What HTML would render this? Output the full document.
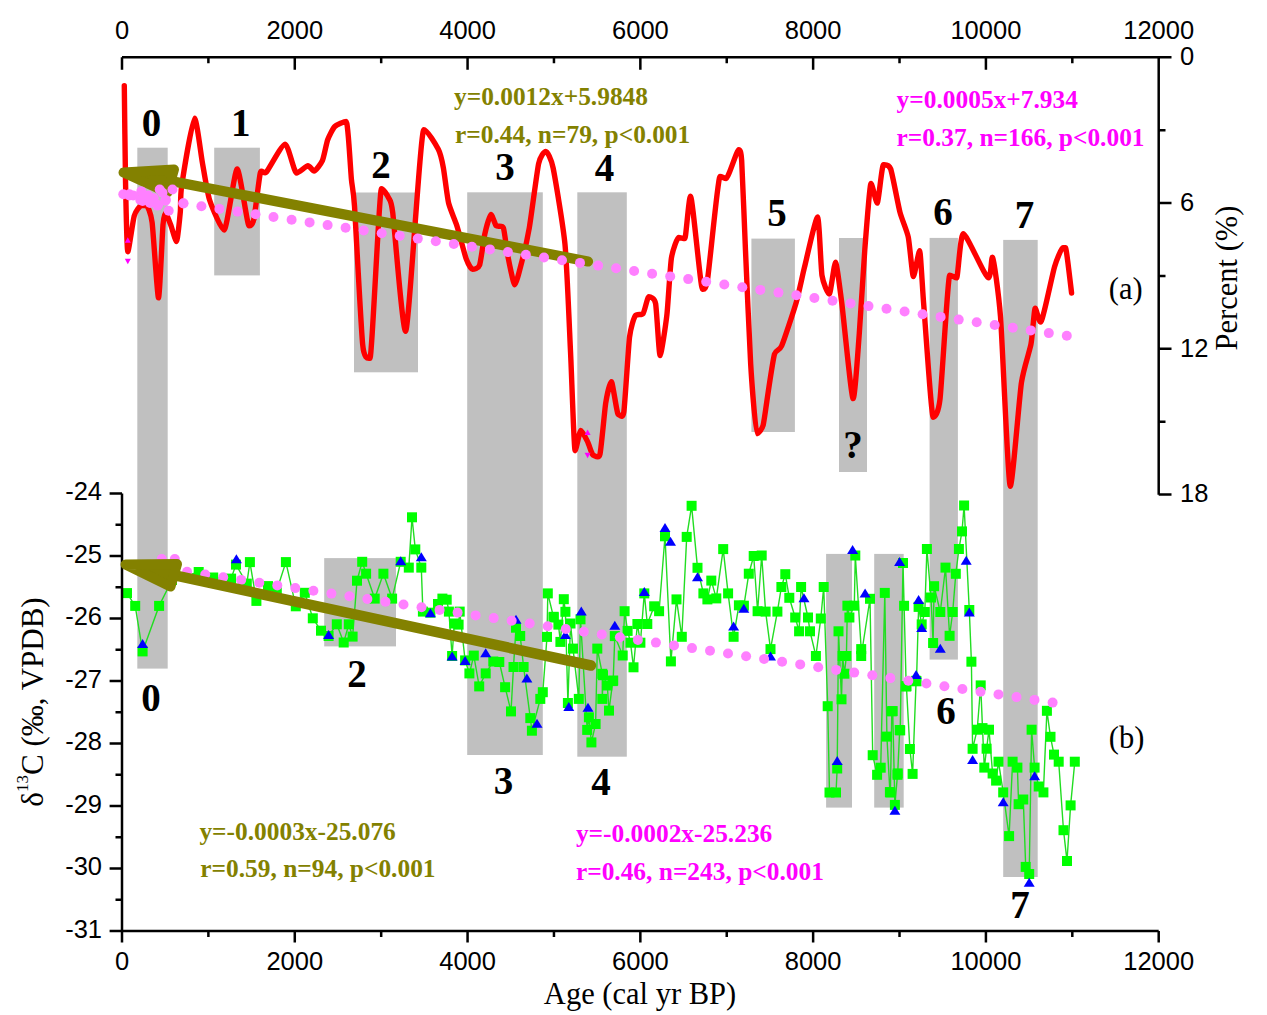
<!DOCTYPE html>
<html><head><meta charset="utf-8"><style>html,body{margin:0;padding:0;background:#fff;overflow:hidden}svg{display:block}</style></head>
<body><svg width="1267" height="1015" viewBox="0 0 1267 1015">
<rect width="1267" height="1015" fill="#fff"/>
<rect x="137.3" y="147.7" width="30.4" height="520.9" fill="#c0c0c0"/>
<rect x="214.2" y="147.7" width="45.7" height="127.7" fill="#c0c0c0"/>
<rect x="354" y="192.5" width="64.0" height="179.8" fill="#c0c0c0"/>
<rect x="467.2" y="192.3" width="75.6" height="562.7" fill="#c0c0c0"/>
<rect x="577.3" y="192.3" width="49.5" height="564.4" fill="#c0c0c0"/>
<rect x="751.4" y="238.6" width="43.5" height="193.4" fill="#c0c0c0"/>
<rect x="839" y="238" width="28.0" height="234.0" fill="#c0c0c0"/>
<rect x="929.6" y="237.9" width="28.3" height="421.7" fill="#c0c0c0"/>
<rect x="1003.2" y="239.9" width="34.5" height="637.1" fill="#c0c0c0"/>
<rect x="324.2" y="558.1" width="71.8" height="88.3" fill="#c0c0c0"/>
<rect x="826.1" y="553.9" width="25.9" height="253.7" fill="#c0c0c0"/>
<rect x="874.2" y="553.9" width="29.5" height="253.7" fill="#c0c0c0"/>
<path d="M124.3,85.7 C124.4,95.1 125.2,163.4 125.5,180 C125.8,196.6 126.9,251.7 127.8,251.7 C128.7,251.7 132.9,220.5 134.2,215.9 C135.5,211.3 140.0,205.6 141.2,205.6 C142.4,205.6 145.3,205.6 146.4,205.6 C147.5,205.6 150.9,213.1 152.1,222.3 C153.3,231.5 157.4,297.8 158.5,297.8 C159.6,297.8 162.3,233.2 163,224.8 C163.7,216.4 164.8,213.3 165.6,213.3 C166.4,213.3 169.6,222.0 170.7,224.8 C171.8,227.6 175.5,241.5 176.5,241.5 C177.5,241.5 179.8,217.5 180.3,212 C180.8,206.5 180.2,195.8 181.6,186.4 C183.0,177.0 192.4,118.3 194.5,118.3 C196.6,118.3 200.9,154.5 202.4,162.7 C203.9,170.9 207.4,193.3 209.6,200 C211.8,206.7 221.3,230.0 224.1,230 C226.9,230.0 234.7,169.0 237.2,169 C239.7,169.0 247.3,225.8 249,225.8 C250.7,225.8 252.9,223.9 254,218.6 C255.1,213.3 259.1,177.7 260.3,173 C261.6,168.3 264.0,174.9 266.5,172 C269.0,169.1 282.1,144.1 285.1,144.1 C288.1,144.1 294.2,173.0 296.5,173 C298.8,173.0 306.1,165.8 307.9,165.8 C309.7,165.8 312.7,171.0 314.1,171 C315.6,171.0 321.0,163.8 322.4,160.7 C323.8,157.6 326.4,143.4 327.6,140 C328.8,136.6 332.9,128.4 334.8,126.5 C336.7,124.6 344.5,121.4 346.2,121.4 C347.9,121.4 350.6,170.8 351.4,179.3 C352.2,187.8 353.4,189.4 354.5,206 C355.6,222.6 361.1,329.6 362.7,344.8 C364.2,360.0 368.1,358.2 370,358.2 C371.9,358.2 379.5,188.6 381.4,188.6 C383.3,188.6 387.5,195.5 388.6,197.9 C389.7,200.3 391.0,199.1 392.7,212.4 C394.4,225.7 402.5,331.3 405.6,331.3 C408.7,331.3 420.5,129.6 423.8,129.6 C427.1,129.6 436.3,145.5 438.3,149.3 C440.3,153.1 442.4,162.5 443.4,167.9 C444.4,173.3 447.2,197.2 448.6,203 C450.0,208.8 455.1,220.2 456.9,225.8 C458.7,231.4 464.6,254.5 466.2,258.9 C467.8,263.2 471.1,269.3 472.4,269.3 C473.7,269.3 478.4,268.6 479.6,265.1 C480.8,261.6 483.7,239.2 484.8,234.1 C485.9,229.0 489.9,214.4 491,214.4 C492.1,214.4 495.0,224.5 496.2,225.8 C497.4,227.2 502.3,225.0 503.4,227.9 C504.5,230.8 506.5,249.1 507.6,254.8 C508.7,260.5 513.4,284.8 514.8,284.8 C516.2,284.8 520.5,266.7 522,261 C523.5,255.3 527.6,237.6 529.3,227.9 C531.0,218.2 537.0,171.5 538.6,163.8 C540.2,156.2 544.3,151.4 545.8,151.4 C547.2,151.4 551.2,158.6 553.1,167.9 C555.0,177.2 563.2,225.9 565,244.4 C566.8,262.9 569.6,332.7 570.6,353.3 C571.6,373.9 574.1,450.7 575.1,450.7 C576.1,450.7 579.5,430.4 580.8,430.4 C582.0,430.4 586.4,439.2 587.6,441.7 C588.9,444.2 592.1,455.3 593.3,455.3 C594.5,455.3 598.8,459.3 600,454.1 C601.2,448.9 604.6,410.4 605.7,403.2 C606.8,395.9 610.1,381.6 611.4,381.6 C612.6,381.6 617.0,414.5 618.2,414.5 C619.4,414.5 622.7,419.9 623.8,412.2 C624.9,404.5 628.4,347.0 629.5,337.4 C630.6,327.8 633.8,318.3 635.2,315.9 C636.6,313.5 641.7,315.5 643.1,313.6 C644.5,311.7 647.5,296.7 648.8,296.7 C650.0,296.7 654.5,297.6 655.6,303.5 C656.7,309.4 659.0,355.6 660.1,355.6 C661.2,355.6 665.8,324.6 666.9,314.8 C668.0,305.1 670.2,265.8 671.4,258.1 C672.6,250.4 677.3,237.5 678.6,237.5 C679.9,237.5 683.6,238.6 684.8,238.6 C686.0,238.6 688.8,196.2 690.6,196.2 C692.4,196.2 700.7,289.3 702.4,289.3 C704.1,289.3 705.8,290.2 707.6,278.9 C709.4,267.6 718.1,176.5 720,176.5 C721.9,176.5 724.3,178.6 726.2,178.6 C728.1,178.6 737.1,149.6 738.6,149.6 C740.1,149.6 741.0,150.9 741.7,161 C742.4,171.1 744.6,230.4 745.5,250.7 C746.4,271.0 749.6,346.1 750.7,364.4 C751.8,382.7 755.7,433.7 756.9,433.7 C758.1,433.7 762.0,429.6 763.1,425.4 C764.2,421.2 767.2,398.4 768.3,391.3 C769.4,384.2 773.2,358.7 774.5,354.1 C775.8,349.6 779.5,351.0 781.7,345.8 C783.9,340.6 793.9,310.3 796.2,302.4 C798.5,294.5 802.4,275.7 804.5,267.2 C806.6,258.7 815.8,217.0 817.5,217 C819.2,217.0 820.8,267.8 822,275.5 C823.2,283.2 827.9,294.1 829.3,294.1 C830.6,294.1 834.3,262.1 835.5,262.1 C836.7,262.1 839.9,288.8 841.7,302.4 C843.5,316.0 851.3,398.6 853.1,398.6 C854.9,398.6 858.1,348.3 859.3,333.4 C860.5,318.5 863.6,264.6 864.8,249.6 C866.0,234.6 869.8,183.4 871,183.4 C872.2,183.4 876.0,203.1 877.2,203.1 C878.4,203.1 882.0,164.8 883.4,164.8 C884.8,164.8 889.0,164.2 890.7,169 C892.4,173.8 898.2,205.6 900,212.4 C901.8,219.2 907.0,230.8 908.3,237.2 C909.6,243.6 912.3,276.5 913.4,276.5 C914.5,276.5 918.6,250.7 919.6,250.7 C920.6,250.7 922.4,288.9 923.8,305.5 C925.1,322.1 931.5,417.2 933.1,417.2 C934.7,417.2 938.3,413.5 940,399.3 C941.7,385.1 948.0,275.2 949.7,275.2 C951.4,275.2 955.2,277.9 956.6,277.9 C958.0,277.9 960.2,233.8 963.4,233.8 C966.6,233.8 985.4,277.9 988.3,277.9 C991.2,277.9 991.2,257.2 992.4,257.2 C993.6,257.2 998.7,293.7 1000.5,316.6 C1002.3,339.5 1008.2,486.2 1010.3,486.2 C1012.4,486.2 1019.3,397.0 1021.4,382.8 C1023.5,368.6 1029.6,351.6 1031,344.1 C1032.4,336.7 1034.2,308.3 1035.2,308.3 C1036.2,308.3 1038.8,322.1 1040.7,322.1 C1042.6,322.1 1052.3,274.3 1054.5,266.9 C1056.7,259.4 1061.7,247.6 1062.8,247.6 C1063.9,247.6 1064.6,247.6 1065.5,247.6 C1066.4,247.6 1071.0,288.6 1071.6,293.1" fill="none" stroke="#ff0000" stroke-width="5.4" stroke-linejoin="round" stroke-linecap="round"/>
<line x1="170.8" y1="181.0" x2="588" y2="261.5" stroke="#838100" stroke-width="10.2" stroke-linecap="round"/><polygon points="123.5,172.5 174,169.5 167.5,192.5" fill="#838100" stroke="#838100" stroke-width="10" stroke-linejoin="round"/>
<circle cx="129.3" cy="195.4" r="5" fill="#ff80ff"/><circle cx="147.3" cy="198.1" r="5" fill="#ff80ff"/><circle cx="165.3" cy="200.8" r="5" fill="#ff80ff"/><circle cx="183.4" cy="203.5" r="5" fill="#ff80ff"/><circle cx="201.4" cy="206.2" r="5" fill="#ff80ff"/><circle cx="219.4" cy="208.9" r="5" fill="#ff80ff"/><circle cx="237.5" cy="211.6" r="5" fill="#ff80ff"/><circle cx="255.5" cy="214.3" r="5" fill="#ff80ff"/><circle cx="273.5" cy="217.0" r="5" fill="#ff80ff"/><circle cx="291.6" cy="219.7" r="5" fill="#ff80ff"/><circle cx="309.6" cy="222.4" r="5" fill="#ff80ff"/><circle cx="327.6" cy="225.1" r="5" fill="#ff80ff"/><circle cx="345.6" cy="227.8" r="5" fill="#ff80ff"/><circle cx="363.7" cy="230.5" r="5" fill="#ff80ff"/><circle cx="381.7" cy="233.2" r="5" fill="#ff80ff"/><circle cx="399.7" cy="235.9" r="5" fill="#ff80ff"/><circle cx="417.8" cy="238.6" r="5" fill="#ff80ff"/><circle cx="435.8" cy="241.3" r="5" fill="#ff80ff"/><circle cx="453.8" cy="244.0" r="5" fill="#ff80ff"/><circle cx="471.9" cy="246.7" r="5" fill="#ff80ff"/><circle cx="489.9" cy="249.4" r="5" fill="#ff80ff"/><circle cx="507.9" cy="252.1" r="5" fill="#ff80ff"/><circle cx="525.9" cy="254.8" r="5" fill="#ff80ff"/><circle cx="544.0" cy="257.5" r="5" fill="#ff80ff"/><circle cx="562.0" cy="260.2" r="5" fill="#ff80ff"/><circle cx="580.0" cy="262.9" r="5" fill="#ff80ff"/><circle cx="598.1" cy="265.6" r="5" fill="#ff80ff"/><circle cx="616.1" cy="268.3" r="5" fill="#ff80ff"/><circle cx="634.1" cy="271.0" r="5" fill="#ff80ff"/><circle cx="652.1" cy="273.7" r="5" fill="#ff80ff"/><circle cx="670.2" cy="276.4" r="5" fill="#ff80ff"/><circle cx="688.2" cy="279.1" r="5" fill="#ff80ff"/><circle cx="706.2" cy="281.8" r="5" fill="#ff80ff"/><circle cx="724.3" cy="284.5" r="5" fill="#ff80ff"/><circle cx="742.3" cy="287.2" r="5" fill="#ff80ff"/><circle cx="760.3" cy="289.9" r="5" fill="#ff80ff"/><circle cx="778.4" cy="292.6" r="5" fill="#ff80ff"/><circle cx="796.4" cy="295.3" r="5" fill="#ff80ff"/><circle cx="814.4" cy="298.0" r="5" fill="#ff80ff"/><circle cx="832.5" cy="300.7" r="5" fill="#ff80ff"/><circle cx="850.5" cy="303.4" r="5" fill="#ff80ff"/><circle cx="868.5" cy="306.1" r="5" fill="#ff80ff"/><circle cx="886.5" cy="308.8" r="5" fill="#ff80ff"/><circle cx="904.6" cy="311.5" r="5" fill="#ff80ff"/><circle cx="922.6" cy="314.2" r="5" fill="#ff80ff"/><circle cx="940.6" cy="316.9" r="5" fill="#ff80ff"/><circle cx="958.7" cy="319.6" r="5" fill="#ff80ff"/><circle cx="976.7" cy="322.3" r="5" fill="#ff80ff"/><circle cx="994.7" cy="325.0" r="5" fill="#ff80ff"/><circle cx="1012.8" cy="327.7" r="5" fill="#ff80ff"/><circle cx="1030.8" cy="330.4" r="5" fill="#ff80ff"/><circle cx="1048.8" cy="333.1" r="5" fill="#ff80ff"/><circle cx="1066.8" cy="335.8" r="5" fill="#ff80ff"/><circle cx="133.2" cy="195.5" r="5" fill="#ff80ff"/><circle cx="148.1" cy="195.5" r="5" fill="#ff80ff"/><circle cx="153.7" cy="198.2" r="5" fill="#ff80ff"/><circle cx="158.1" cy="204.9" r="5" fill="#ff80ff"/><circle cx="142.6" cy="201.0" r="5" fill="#ff80ff"/><circle cx="162.5" cy="192.7" r="5" fill="#ff80ff"/><circle cx="150.0" cy="203.0" r="5" fill="#ff80ff"/><circle cx="123.3" cy="194.2" r="5" fill="#ff80ff"/><circle cx="129.4" cy="194.2" r="5" fill="#ff80ff"/><circle cx="141.3" cy="191.4" r="5" fill="#ff80ff"/><circle cx="140.3" cy="199.9" r="5" fill="#ff80ff"/><circle cx="148.8" cy="198.0" r="5" fill="#ff80ff"/><circle cx="159.7" cy="189.5" r="5" fill="#ff80ff"/><circle cx="172.5" cy="189.5" r="5" fill="#ff80ff"/><circle cx="165.9" cy="199.9" r="5" fill="#ff80ff"/><circle cx="157.3" cy="205.6" r="5" fill="#ff80ff"/><circle cx="168.7" cy="210.8" r="5" fill="#ff80ff"/><circle cx="183.4" cy="203.2" r="5" fill="#ff80ff"/>
<polygon points="124.8,242.7 130.8,242.7 127.8,237.2" fill="#ff00ff"/>
<polygon points="124.8,258.8 130.8,258.8 127.8,264.3" fill="#ff00ff"/>
<polygon points="584.6,435.1 590.6,435.1 587.6,429.6" fill="#ff00ff"/>
<polygon points="584.6,452.8 590.6,452.8 587.6,458.3" fill="#ff00ff"/>
<polyline points="127,593.1 135.2,605.9 142.6,651.4 159.1,605.9 172,580 198.7,572 213.2,577.5 231.1,578.6 236,564.6 246.8,583.6 249.9,562.1 256.4,600.9 268,586.1 276.8,590.3 285.9,562.1 295.8,606.3 304.8,592.8 312.8,618.3 321,630.7 328.6,636 336.8,624.3 343.7,642.5 348.8,624.3 352.6,636.6 357,580.7 362.2,561.8 366.1,573.7 374.7,598.6 383.4,573.7 392.1,598.6 400.7,561.8 408.8,567.6 412,517.3 415.3,549.4 421.3,567.6 422.9,611.6 430.4,612.7 438,604 442.4,598.6 446.7,599.7 448.9,611.6 452.1,656 454.3,623.5 458.6,624.6 459.7,611.6 465.1,660.4 469.4,673.4 473.8,655.6 479.2,686.4 485.7,673.4 493.3,661.5 499.3,662 505.1,687.2 511,711.4 513.5,667 516,627.7 520.2,636 523.6,667 530.3,718.1 531.9,730.7 540.3,698.9 542.8,692.2 547,636.9 547.8,593.4 553.6,617.5 553.7,616.8 558.4,624.6 560.4,641.9 563.8,599.2 565.4,611.8 567.9,703 570.5,623.5 573,648.6 578.8,698.9 580.5,619.3 587.2,729.9 588.9,717.3 591.4,742.4 595.6,724 597.3,648.6 602.3,673.8 602.3,698.9 603,675.2 607.3,685.5 609,710.6 612.8,681.1 613.2,680.5 614.8,636.1 622.7,655.5 624.6,611.2 627.6,630.9 630.5,642.7 633.5,667.3 637.4,624 640.4,642.7 644.3,593.4 647.3,624 654.2,606.3 659.1,611.2 665,536.3 670.9,661.4 676.5,599.4 681.8,636.8 686.7,536.9 691.6,505.8 697.5,567.8 703.4,593.4 707.4,599.4 711.3,580.6 716.3,598.4 723.2,549.1 728.1,593.4 733.6,636.8 738.9,605.3 743.9,605.7 748.8,573.7 753.7,556 757.6,611.2 761.7,555.5 765.6,611.6 770.5,649.1 777.4,611.6 781.4,587 785.3,574.2 789.3,597.8 795.2,617.5 799.1,631.3 801.1,587 808,617.5 810,631.3 815.9,656 820.8,618.5 823.7,587 827.7,706.2 829.5,792.5 836,792.5 837.2,768.5 838.5,631.3 841.5,699.3 842.6,656 844.4,673.7 846.4,656 847.4,605.7 849.4,617.5 854.3,605.7 855.3,555.5 861.2,649.1 861.2,656 870,598.8 872.7,755.2 877.1,774.8 880.7,767.7 884.8,592.9 886.9,736.6 889.9,792.1 890.4,792.5 891.8,711.3 892.7,711.1 894.9,804.9 897.5,774.8 897.7,773.4 899.7,730 900.2,730.4 903,563 904.1,605.8 906.2,686.5 906.4,686.1 909.9,749 912.6,773.9 916.1,680.8 916.5,681.3 918.6,606.9 921.7,624.4 924.8,612 926.9,549 931,597.5 933.1,643 934.1,586.2 940.3,612 945.5,567.6 949.6,635.8 952.7,612 955.8,573.8 958.9,549 962,531.4 964.1,505.5 969.3,610 971.4,661.7 972.6,748.8 977.2,729.7 980.7,685.4 982.5,728.1 984.3,767.6 986.6,748.7 989,729.7 992.6,773.5 996.1,780.6 998.5,761.7 1003.2,792.4 1009.1,836.1 1012.6,761.7 1017.4,767.6 1018.6,804.2 1023.3,799.5 1025.7,866.9 1029.2,874 1031.6,729.7 1034.6,767.6 1038.7,786.5 1043.4,792.4 1046.9,710.8 1050.5,736.8 1054,754.6 1058.7,761.7 1063.5,830.2 1067,861 1070.6,805.4 1074.8,761.7" fill="none" stroke="#22dd22" stroke-width="1.4"/>
<rect x="122.0" y="588.1" width="10" height="10" fill="#00ff00"/><rect x="964.3" y="605.0" width="10" height="10" fill="#00ff00"/><rect x="898.0" y="558.0" width="10" height="10" fill="#00ff00"/><rect x="562.9" y="698.0" width="10" height="10" fill="#00ff00"/><rect x="167.0" y="575.0" width="10" height="10" fill="#00ff00"/><rect x="130.2" y="600.9" width="10" height="10" fill="#00ff00"/><rect x="137.6" y="646.4" width="10" height="10" fill="#00ff00"/><rect x="154.1" y="600.9" width="10" height="10" fill="#00ff00"/><rect x="193.7" y="567.0" width="10" height="10" fill="#00ff00"/><rect x="208.2" y="572.5" width="10" height="10" fill="#00ff00"/><rect x="226.1" y="573.6" width="10" height="10" fill="#00ff00"/><rect x="231.0" y="559.6" width="10" height="10" fill="#00ff00"/><rect x="244.9" y="557.1" width="10" height="10" fill="#00ff00"/><rect x="241.8" y="578.6" width="10" height="10" fill="#00ff00"/><rect x="251.4" y="595.9" width="10" height="10" fill="#00ff00"/><rect x="263.0" y="581.1" width="10" height="10" fill="#00ff00"/><rect x="271.8" y="585.3" width="10" height="10" fill="#00ff00"/><rect x="280.9" y="557.1" width="10" height="10" fill="#00ff00"/><rect x="290.8" y="601.3" width="10" height="10" fill="#00ff00"/><rect x="299.8" y="587.8" width="10" height="10" fill="#00ff00"/><rect x="307.8" y="613.3" width="10" height="10" fill="#00ff00"/><rect x="316.0" y="625.7" width="10" height="10" fill="#00ff00"/><rect x="323.6" y="631.0" width="10" height="10" fill="#00ff00"/><rect x="331.8" y="619.3" width="10" height="10" fill="#00ff00"/><rect x="343.8" y="619.3" width="10" height="10" fill="#00ff00"/><rect x="338.7" y="637.5" width="10" height="10" fill="#00ff00"/><rect x="347.6" y="631.6" width="10" height="10" fill="#00ff00"/><rect x="352.0" y="575.7" width="10" height="10" fill="#00ff00"/><rect x="357.2" y="556.8" width="10" height="10" fill="#00ff00"/><rect x="361.1" y="568.7" width="10" height="10" fill="#00ff00"/><rect x="369.7" y="593.6" width="10" height="10" fill="#00ff00"/><rect x="378.4" y="568.7" width="10" height="10" fill="#00ff00"/><rect x="387.1" y="593.6" width="10" height="10" fill="#00ff00"/><rect x="395.7" y="556.8" width="10" height="10" fill="#00ff00"/><rect x="403.8" y="562.6" width="10" height="10" fill="#00ff00"/><rect x="407.0" y="512.3" width="10" height="10" fill="#00ff00"/><rect x="410.3" y="544.4" width="10" height="10" fill="#00ff00"/><rect x="416.3" y="562.6" width="10" height="10" fill="#00ff00"/><rect x="417.9" y="606.6" width="10" height="10" fill="#00ff00"/><rect x="425.4" y="607.7" width="10" height="10" fill="#00ff00"/><rect x="433.0" y="599.0" width="10" height="10" fill="#00ff00"/><rect x="437.4" y="593.6" width="10" height="10" fill="#00ff00"/><rect x="441.7" y="594.7" width="10" height="10" fill="#00ff00"/><rect x="443.9" y="606.6" width="10" height="10" fill="#00ff00"/><rect x="449.3" y="618.5" width="10" height="10" fill="#00ff00"/><rect x="454.7" y="606.6" width="10" height="10" fill="#00ff00"/><rect x="447.1" y="651.0" width="10" height="10" fill="#00ff00"/><rect x="453.6" y="619.6" width="10" height="10" fill="#00ff00"/><rect x="460.1" y="655.4" width="10" height="10" fill="#00ff00"/><rect x="464.4" y="668.4" width="10" height="10" fill="#00ff00"/><rect x="468.8" y="650.6" width="10" height="10" fill="#00ff00"/><rect x="474.2" y="681.4" width="10" height="10" fill="#00ff00"/><rect x="480.7" y="668.4" width="10" height="10" fill="#00ff00"/><rect x="488.3" y="656.5" width="10" height="10" fill="#00ff00"/><rect x="494.3" y="657.0" width="10" height="10" fill="#00ff00"/><rect x="500.1" y="682.2" width="10" height="10" fill="#00ff00"/><rect x="506.0" y="706.4" width="10" height="10" fill="#00ff00"/><rect x="508.5" y="662.0" width="10" height="10" fill="#00ff00"/><rect x="511.0" y="622.7" width="10" height="10" fill="#00ff00"/><rect x="515.2" y="631.0" width="10" height="10" fill="#00ff00"/><rect x="518.6" y="662.0" width="10" height="10" fill="#00ff00"/><rect x="525.3" y="713.1" width="10" height="10" fill="#00ff00"/><rect x="526.9" y="725.7" width="10" height="10" fill="#00ff00"/><rect x="535.3" y="693.9" width="10" height="10" fill="#00ff00"/><rect x="537.8" y="687.2" width="10" height="10" fill="#00ff00"/><rect x="542.8" y="588.4" width="10" height="10" fill="#00ff00"/><rect x="542.0" y="631.9" width="10" height="10" fill="#00ff00"/><rect x="548.7" y="611.8" width="10" height="10" fill="#00ff00"/><rect x="555.4" y="636.9" width="10" height="10" fill="#00ff00"/><rect x="558.8" y="594.2" width="10" height="10" fill="#00ff00"/><rect x="560.4" y="606.8" width="10" height="10" fill="#00ff00"/><rect x="565.5" y="618.5" width="10" height="10" fill="#00ff00"/><rect x="568.0" y="643.6" width="10" height="10" fill="#00ff00"/><rect x="573.8" y="693.9" width="10" height="10" fill="#00ff00"/><rect x="575.5" y="614.3" width="10" height="10" fill="#00ff00"/><rect x="583.9" y="712.3" width="10" height="10" fill="#00ff00"/><rect x="582.2" y="724.9" width="10" height="10" fill="#00ff00"/><rect x="586.4" y="737.4" width="10" height="10" fill="#00ff00"/><rect x="590.6" y="719.0" width="10" height="10" fill="#00ff00"/><rect x="592.3" y="643.6" width="10" height="10" fill="#00ff00"/><rect x="597.3" y="668.8" width="10" height="10" fill="#00ff00"/><rect x="597.3" y="693.9" width="10" height="10" fill="#00ff00"/><rect x="604.0" y="705.6" width="10" height="10" fill="#00ff00"/><rect x="602.3" y="680.5" width="10" height="10" fill="#00ff00"/><rect x="608.2" y="675.5" width="10" height="10" fill="#00ff00"/><rect x="609.8" y="631.1" width="10" height="10" fill="#00ff00"/><rect x="553.4" y="619.6" width="10" height="10" fill="#00ff00"/><rect x="548.6" y="612.5" width="10" height="10" fill="#00ff00"/><rect x="598.0" y="670.2" width="10" height="10" fill="#00ff00"/><rect x="607.8" y="676.1" width="10" height="10" fill="#00ff00"/><rect x="617.7" y="650.5" width="10" height="10" fill="#00ff00"/><rect x="619.6" y="606.2" width="10" height="10" fill="#00ff00"/><rect x="622.6" y="625.9" width="10" height="10" fill="#00ff00"/><rect x="625.5" y="637.7" width="10" height="10" fill="#00ff00"/><rect x="628.5" y="662.3" width="10" height="10" fill="#00ff00"/><rect x="632.4" y="619.0" width="10" height="10" fill="#00ff00"/><rect x="635.4" y="637.7" width="10" height="10" fill="#00ff00"/><rect x="639.3" y="588.4" width="10" height="10" fill="#00ff00"/><rect x="642.3" y="619.0" width="10" height="10" fill="#00ff00"/><rect x="649.2" y="601.3" width="10" height="10" fill="#00ff00"/><rect x="654.1" y="606.2" width="10" height="10" fill="#00ff00"/><rect x="660.0" y="531.3" width="10" height="10" fill="#00ff00"/><rect x="665.9" y="656.4" width="10" height="10" fill="#00ff00"/><rect x="671.5" y="594.4" width="10" height="10" fill="#00ff00"/><rect x="676.8" y="631.8" width="10" height="10" fill="#00ff00"/><rect x="681.7" y="531.9" width="10" height="10" fill="#00ff00"/><rect x="686.6" y="500.8" width="10" height="10" fill="#00ff00"/><rect x="692.5" y="562.8" width="10" height="10" fill="#00ff00"/><rect x="698.4" y="588.4" width="10" height="10" fill="#00ff00"/><rect x="702.4" y="594.4" width="10" height="10" fill="#00ff00"/><rect x="706.3" y="575.6" width="10" height="10" fill="#00ff00"/><rect x="711.3" y="593.4" width="10" height="10" fill="#00ff00"/><rect x="718.2" y="544.1" width="10" height="10" fill="#00ff00"/><rect x="723.1" y="588.4" width="10" height="10" fill="#00ff00"/><rect x="728.6" y="631.8" width="10" height="10" fill="#00ff00"/><rect x="733.9" y="600.3" width="10" height="10" fill="#00ff00"/><rect x="743.8" y="568.7" width="10" height="10" fill="#00ff00"/><rect x="748.7" y="551.0" width="10" height="10" fill="#00ff00"/><rect x="752.6" y="606.2" width="10" height="10" fill="#00ff00"/><rect x="738.9" y="600.7" width="10" height="10" fill="#00ff00"/><rect x="756.7" y="550.5" width="10" height="10" fill="#00ff00"/><rect x="760.6" y="606.6" width="10" height="10" fill="#00ff00"/><rect x="765.5" y="644.1" width="10" height="10" fill="#00ff00"/><rect x="772.4" y="606.6" width="10" height="10" fill="#00ff00"/><rect x="776.4" y="582.0" width="10" height="10" fill="#00ff00"/><rect x="780.3" y="569.2" width="10" height="10" fill="#00ff00"/><rect x="784.3" y="592.8" width="10" height="10" fill="#00ff00"/><rect x="790.2" y="612.5" width="10" height="10" fill="#00ff00"/><rect x="796.1" y="582.0" width="10" height="10" fill="#00ff00"/><rect x="794.1" y="626.3" width="10" height="10" fill="#00ff00"/><rect x="803.0" y="612.5" width="10" height="10" fill="#00ff00"/><rect x="805.0" y="626.3" width="10" height="10" fill="#00ff00"/><rect x="810.9" y="651.0" width="10" height="10" fill="#00ff00"/><rect x="815.8" y="613.5" width="10" height="10" fill="#00ff00"/><rect x="818.7" y="582.0" width="10" height="10" fill="#00ff00"/><rect x="822.7" y="701.2" width="10" height="10" fill="#00ff00"/><rect x="833.5" y="626.3" width="10" height="10" fill="#00ff00"/><rect x="836.5" y="694.3" width="10" height="10" fill="#00ff00"/><rect x="839.4" y="668.7" width="10" height="10" fill="#00ff00"/><rect x="841.4" y="651.0" width="10" height="10" fill="#00ff00"/><rect x="842.4" y="600.7" width="10" height="10" fill="#00ff00"/><rect x="844.4" y="612.5" width="10" height="10" fill="#00ff00"/><rect x="850.3" y="550.5" width="10" height="10" fill="#00ff00"/><rect x="849.3" y="600.7" width="10" height="10" fill="#00ff00"/><rect x="856.2" y="644.1" width="10" height="10" fill="#00ff00"/><rect x="856.2" y="651.0" width="10" height="10" fill="#00ff00"/><rect x="865.0" y="593.8" width="10" height="10" fill="#00ff00"/><rect x="879.8" y="587.9" width="10" height="10" fill="#00ff00"/><rect x="887.7" y="706.1" width="10" height="10" fill="#00ff00"/><rect x="824.5" y="787.5" width="10" height="10" fill="#00ff00"/><rect x="831.0" y="787.5" width="10" height="10" fill="#00ff00"/><rect x="832.2" y="763.5" width="10" height="10" fill="#00ff00"/><rect x="837.6" y="651.0" width="10" height="10" fill="#00ff00"/><rect x="867.7" y="750.2" width="10" height="10" fill="#00ff00"/><rect x="872.1" y="769.8" width="10" height="10" fill="#00ff00"/><rect x="875.7" y="762.7" width="10" height="10" fill="#00ff00"/><rect x="881.9" y="731.6" width="10" height="10" fill="#00ff00"/><rect x="885.4" y="787.5" width="10" height="10" fill="#00ff00"/><rect x="889.9" y="799.9" width="10" height="10" fill="#00ff00"/><rect x="892.5" y="769.8" width="10" height="10" fill="#00ff00"/><rect x="895.2" y="725.4" width="10" height="10" fill="#00ff00"/><rect x="901.4" y="681.1" width="10" height="10" fill="#00ff00"/><rect x="904.9" y="744.0" width="10" height="10" fill="#00ff00"/><rect x="907.6" y="768.9" width="10" height="10" fill="#00ff00"/><rect x="911.1" y="675.8" width="10" height="10" fill="#00ff00"/><rect x="899.1" y="600.8" width="10" height="10" fill="#00ff00"/><rect x="913.6" y="601.9" width="10" height="10" fill="#00ff00"/><rect x="916.7" y="619.4" width="10" height="10" fill="#00ff00"/><rect x="919.8" y="607.0" width="10" height="10" fill="#00ff00"/><rect x="921.9" y="544.0" width="10" height="10" fill="#00ff00"/><rect x="926.0" y="592.5" width="10" height="10" fill="#00ff00"/><rect x="928.1" y="638.0" width="10" height="10" fill="#00ff00"/><rect x="929.1" y="581.2" width="10" height="10" fill="#00ff00"/><rect x="935.3" y="607.0" width="10" height="10" fill="#00ff00"/><rect x="940.5" y="562.6" width="10" height="10" fill="#00ff00"/><rect x="944.6" y="630.8" width="10" height="10" fill="#00ff00"/><rect x="947.7" y="607.0" width="10" height="10" fill="#00ff00"/><rect x="950.8" y="568.8" width="10" height="10" fill="#00ff00"/><rect x="953.9" y="544.0" width="10" height="10" fill="#00ff00"/><rect x="957.0" y="526.4" width="10" height="10" fill="#00ff00"/><rect x="959.1" y="500.5" width="10" height="10" fill="#00ff00"/><rect x="966.4" y="656.7" width="10" height="10" fill="#00ff00"/><rect x="975.7" y="680.4" width="10" height="10" fill="#00ff00"/><rect x="911.5" y="676.3" width="10" height="10" fill="#00ff00"/><rect x="901.2" y="681.5" width="10" height="10" fill="#00ff00"/><rect x="894.7" y="725.0" width="10" height="10" fill="#00ff00"/><rect x="886.8" y="706.3" width="10" height="10" fill="#00ff00"/><rect x="892.7" y="768.4" width="10" height="10" fill="#00ff00"/><rect x="884.9" y="787.1" width="10" height="10" fill="#00ff00"/><rect x="967.6" y="743.8" width="10" height="10" fill="#00ff00"/><rect x="977.5" y="723.1" width="10" height="10" fill="#00ff00"/><rect x="972.2" y="724.7" width="10" height="10" fill="#00ff00"/><rect x="984.0" y="724.7" width="10" height="10" fill="#00ff00"/><rect x="981.6" y="743.7" width="10" height="10" fill="#00ff00"/><rect x="979.3" y="762.6" width="10" height="10" fill="#00ff00"/><rect x="987.6" y="768.5" width="10" height="10" fill="#00ff00"/><rect x="991.1" y="775.6" width="10" height="10" fill="#00ff00"/><rect x="993.5" y="756.7" width="10" height="10" fill="#00ff00"/><rect x="998.2" y="787.4" width="10" height="10" fill="#00ff00"/><rect x="1004.1" y="831.1" width="10" height="10" fill="#00ff00"/><rect x="1007.6" y="756.7" width="10" height="10" fill="#00ff00"/><rect x="1012.4" y="762.6" width="10" height="10" fill="#00ff00"/><rect x="1013.6" y="799.2" width="10" height="10" fill="#00ff00"/><rect x="1018.3" y="794.5" width="10" height="10" fill="#00ff00"/><rect x="1020.7" y="861.9" width="10" height="10" fill="#00ff00"/><rect x="1024.2" y="869.0" width="10" height="10" fill="#00ff00"/><rect x="1026.6" y="724.7" width="10" height="10" fill="#00ff00"/><rect x="1029.6" y="762.6" width="10" height="10" fill="#00ff00"/><rect x="1033.7" y="781.5" width="10" height="10" fill="#00ff00"/><rect x="1038.4" y="787.4" width="10" height="10" fill="#00ff00"/><rect x="1041.9" y="705.8" width="10" height="10" fill="#00ff00"/><rect x="1045.5" y="731.8" width="10" height="10" fill="#00ff00"/><rect x="1049.0" y="749.6" width="10" height="10" fill="#00ff00"/><rect x="1053.7" y="756.7" width="10" height="10" fill="#00ff00"/><rect x="1058.5" y="825.2" width="10" height="10" fill="#00ff00"/><rect x="1062.0" y="856.0" width="10" height="10" fill="#00ff00"/><rect x="1065.6" y="800.4" width="10" height="10" fill="#00ff00"/><rect x="1069.8" y="756.7" width="10" height="10" fill="#00ff00"/>
<polygon points="137.1,647.9 148.1,647.9 142.6,638.9" fill="#0000ff"/><polygon points="230.9,563.2 241.9,563.2 236.4,554.2" fill="#0000ff"/><polygon points="323.1,638.9 334.1,638.9 328.6,629.9" fill="#0000ff"/><polygon points="395.2,565.2 406.2,565.2 400.7,556.2" fill="#0000ff"/><polygon points="415.8,561.3 426.8,561.3 421.3,552.3" fill="#0000ff"/><polygon points="424.9,617.2 435.9,617.2 430.4,608.2" fill="#0000ff"/><polygon points="446.6,660.5 457.6,660.5 452.1,651.5" fill="#0000ff"/><polygon points="459.6,664.9 470.6,664.9 465.1,655.9" fill="#0000ff"/><polygon points="480.2,657.3 491.2,657.3 485.7,648.3" fill="#0000ff"/><polygon points="510.5,623.8 521.5,623.8 516.0,614.8" fill="#0000ff"/><polygon points="521.4,682.4 532.4,682.4 526.9,673.4" fill="#0000ff"/><polygon points="531.5,727.7 542.5,727.7 537.0,718.7" fill="#0000ff"/><polygon points="559.9,638.9 570.9,638.9 565.4,629.9" fill="#0000ff"/><polygon points="563.3,710.9 574.3,710.9 568.8,701.9" fill="#0000ff"/><polygon points="575.8,615.4 586.8,615.4 581.3,606.4" fill="#0000ff"/><polygon points="582.5,711.8 593.5,711.8 588.0,702.8" fill="#0000ff"/><polygon points="609.3,629.7 620.3,629.7 614.8,620.7" fill="#0000ff"/><polygon points="638.8,596.0 649.8,596.0 644.3,587.0" fill="#0000ff"/><polygon points="659.5,531.9 670.5,531.9 665.0,522.9" fill="#0000ff"/><polygon points="665.0,545.7 676.0,545.7 670.5,536.7" fill="#0000ff"/><polygon points="692.0,581.2 703.0,581.2 697.5,572.2" fill="#0000ff"/><polygon points="728.1,630.5 739.1,630.5 733.6,621.5" fill="#0000ff"/><polygon points="738.3,612.7 749.3,612.7 743.8,603.7" fill="#0000ff"/><polygon points="765.0,660.5 776.0,660.5 770.5,651.5" fill="#0000ff"/><polygon points="798.5,602.3 809.5,602.3 804.0,593.3" fill="#0000ff"/><polygon points="847.1,554.1 858.1,554.1 852.6,545.1" fill="#0000ff"/><polygon points="859.6,597.4 870.6,597.4 865.1,588.4" fill="#0000ff"/><polygon points="894.1,565.9 905.1,565.9 899.6,556.9" fill="#0000ff"/><polygon points="831.7,765.1 842.7,765.1 837.2,756.1" fill="#0000ff"/><polygon points="889.4,814.7 900.4,814.7 894.9,805.7" fill="#0000ff"/><polygon points="910.6,679.1 921.6,679.1 916.1,670.1" fill="#0000ff"/><polygon points="913.1,604.1 924.1,604.1 918.6,595.1" fill="#0000ff"/><polygon points="916.2,632.0 927.2,632.0 921.7,623.0" fill="#0000ff"/><polygon points="934.8,652.7 945.8,652.7 940.3,643.7" fill="#0000ff"/><polygon points="960.7,564.8 971.7,564.8 966.2,555.8" fill="#0000ff"/><polygon points="963.8,616.5 974.8,616.5 969.3,607.5" fill="#0000ff"/><polygon points="967.1,764.1 978.1,764.1 972.6,755.1" fill="#0000ff"/><polygon points="997.7,806.3 1008.7,806.3 1003.2,797.3" fill="#0000ff"/><polygon points="1023.7,886.7 1034.7,886.7 1029.2,877.7" fill="#0000ff"/><polygon points="1029.1,780.3 1040.1,780.3 1034.6,771.3" fill="#0000ff"/>
<circle cx="169.1" cy="569.0" r="5" fill="#ff80ff"/><circle cx="187.1" cy="571.7" r="5" fill="#ff80ff"/><circle cx="205.2" cy="574.5" r="5" fill="#ff80ff"/><circle cx="223.2" cy="577.2" r="5" fill="#ff80ff"/><circle cx="241.2" cy="579.9" r="5" fill="#ff80ff"/><circle cx="259.3" cy="582.7" r="5" fill="#ff80ff"/><circle cx="277.3" cy="585.4" r="5" fill="#ff80ff"/><circle cx="295.3" cy="588.1" r="5" fill="#ff80ff"/><circle cx="313.4" cy="590.8" r="5" fill="#ff80ff"/><circle cx="331.4" cy="593.6" r="5" fill="#ff80ff"/><circle cx="349.4" cy="596.3" r="5" fill="#ff80ff"/><circle cx="367.4" cy="599.0" r="5" fill="#ff80ff"/><circle cx="385.5" cy="601.7" r="5" fill="#ff80ff"/><circle cx="403.5" cy="604.5" r="5" fill="#ff80ff"/><circle cx="421.5" cy="607.2" r="5" fill="#ff80ff"/><circle cx="439.6" cy="609.9" r="5" fill="#ff80ff"/><circle cx="457.6" cy="612.6" r="5" fill="#ff80ff"/><circle cx="475.6" cy="615.4" r="5" fill="#ff80ff"/><circle cx="493.7" cy="618.1" r="5" fill="#ff80ff"/><circle cx="511.7" cy="620.8" r="5" fill="#ff80ff"/><circle cx="529.7" cy="623.5" r="5" fill="#ff80ff"/><circle cx="547.7" cy="626.3" r="5" fill="#ff80ff"/><circle cx="565.8" cy="629.0" r="5" fill="#ff80ff"/><circle cx="583.8" cy="631.7" r="5" fill="#ff80ff"/><circle cx="601.8" cy="634.4" r="5" fill="#ff80ff"/><circle cx="619.9" cy="637.2" r="5" fill="#ff80ff"/><circle cx="637.9" cy="639.9" r="5" fill="#ff80ff"/><circle cx="655.9" cy="642.6" r="5" fill="#ff80ff"/><circle cx="674.0" cy="645.4" r="5" fill="#ff80ff"/><circle cx="692.0" cy="648.1" r="5" fill="#ff80ff"/><circle cx="710.0" cy="650.8" r="5" fill="#ff80ff"/><circle cx="728.0" cy="653.5" r="5" fill="#ff80ff"/><circle cx="746.1" cy="656.3" r="5" fill="#ff80ff"/><circle cx="764.1" cy="659.0" r="5" fill="#ff80ff"/><circle cx="782.1" cy="661.7" r="5" fill="#ff80ff"/><circle cx="800.2" cy="664.4" r="5" fill="#ff80ff"/><circle cx="818.2" cy="667.2" r="5" fill="#ff80ff"/><circle cx="836.2" cy="669.9" r="5" fill="#ff80ff"/><circle cx="854.2" cy="672.6" r="5" fill="#ff80ff"/><circle cx="872.3" cy="675.3" r="5" fill="#ff80ff"/><circle cx="890.3" cy="678.1" r="5" fill="#ff80ff"/><circle cx="908.3" cy="680.8" r="5" fill="#ff80ff"/><circle cx="926.4" cy="683.5" r="5" fill="#ff80ff"/><circle cx="944.4" cy="686.2" r="5" fill="#ff80ff"/><circle cx="962.4" cy="689.0" r="5" fill="#ff80ff"/><circle cx="980.5" cy="691.7" r="5" fill="#ff80ff"/><circle cx="998.5" cy="694.4" r="5" fill="#ff80ff"/><circle cx="1016.5" cy="697.1" r="5" fill="#ff80ff"/><circle cx="1034.5" cy="699.9" r="5" fill="#ff80ff"/><circle cx="1052.6" cy="702.6" r="5" fill="#ff80ff"/><circle cx="161.8" cy="559.0" r="5" fill="#ff80ff"/><circle cx="174.8" cy="559.0" r="5" fill="#ff80ff"/>
<path d="M122,57.3 H1171.5 M122.00,57.3 V69.7 M208.39,57.3 V63.3 M294.78,57.3 V69.7 M381.18,57.3 V63.3 M467.57,57.3 V69.7 M553.96,57.3 V63.3 M640.35,57.3 V69.7 M726.74,57.3 V63.3 M813.13,57.3 V69.7 M899.52,57.3 V63.3 M985.92,57.3 V69.7 M1072.31,57.3 V63.3 M1158.7,57.3 V494.7 M1158.7,57.30 H1171.5 M1158.7,130.17 H1165.5 M1158.7,203.04 H1171.5 M1158.7,275.91 H1165.5 M1158.7,348.78 H1171.5 M1158.7,421.65 H1165.5 M1158.7,494.52 H1171.5 M122,493.4 V942.5 M122,493.40 H109.6 M122,524.65 H115.5 M122,555.90 H109.6 M122,587.15 H115.5 M122,618.40 H109.6 M122,649.65 H115.5 M122,680.90 H109.6 M122,712.15 H115.5 M122,743.40 H109.6 M122,774.65 H115.5 M122,805.90 H109.6 M122,837.15 H115.5 M122,868.40 H109.6 M122,899.65 H115.5 M122,930.90 H109.6 M109.6,930.9 H1158.7 M122.00,930.9 V942.5 M208.39,930.9 V936.9 M294.78,930.9 V942.5 M381.18,930.9 V936.9 M467.57,930.9 V942.5 M553.96,930.9 V936.9 M640.35,930.9 V942.5 M726.74,930.9 V936.9 M813.13,930.9 V942.5 M899.52,930.9 V936.9 M985.92,930.9 V942.5 M1072.31,930.9 V936.9 M1158.70,930.9 V942.5" stroke="#000" stroke-width="2.5" fill="none"/>
<line x1="173.8" y1="575.2" x2="591" y2="665.5" stroke="#838100" stroke-width="10.5" stroke-linecap="round"/><polygon points="125.5,564.5 177,564 170.5,586.5" fill="#838100" stroke="#838100" stroke-width="10" stroke-linejoin="round"/>
<text x="122.0" y="38.8" font-family="'Liberation Sans', sans-serif" font-size="25.5" text-anchor="middle">0</text>
<text x="122.0" y="970.3" font-family="'Liberation Sans', sans-serif" font-size="25.5" text-anchor="middle">0</text>
<text x="294.8" y="38.8" font-family="'Liberation Sans', sans-serif" font-size="25.5" text-anchor="middle">2000</text>
<text x="294.8" y="970.3" font-family="'Liberation Sans', sans-serif" font-size="25.5" text-anchor="middle">2000</text>
<text x="467.6" y="38.8" font-family="'Liberation Sans', sans-serif" font-size="25.5" text-anchor="middle">4000</text>
<text x="467.6" y="970.3" font-family="'Liberation Sans', sans-serif" font-size="25.5" text-anchor="middle">4000</text>
<text x="640.4" y="38.8" font-family="'Liberation Sans', sans-serif" font-size="25.5" text-anchor="middle">6000</text>
<text x="640.4" y="970.3" font-family="'Liberation Sans', sans-serif" font-size="25.5" text-anchor="middle">6000</text>
<text x="813.1" y="38.8" font-family="'Liberation Sans', sans-serif" font-size="25.5" text-anchor="middle">8000</text>
<text x="813.1" y="970.3" font-family="'Liberation Sans', sans-serif" font-size="25.5" text-anchor="middle">8000</text>
<text x="985.9" y="38.8" font-family="'Liberation Sans', sans-serif" font-size="25.5" text-anchor="middle">10000</text>
<text x="985.9" y="970.3" font-family="'Liberation Sans', sans-serif" font-size="25.5" text-anchor="middle">10000</text>
<text x="1158.7" y="38.8" font-family="'Liberation Sans', sans-serif" font-size="25.5" text-anchor="middle">12000</text>
<text x="1158.7" y="970.3" font-family="'Liberation Sans', sans-serif" font-size="25.5" text-anchor="middle">12000</text>
<text x="1180" y="65.1" font-family="'Liberation Sans', sans-serif" font-size="25.5">0</text>
<text x="1180" y="210.8" font-family="'Liberation Sans', sans-serif" font-size="25.5">6</text>
<text x="1180" y="356.6" font-family="'Liberation Sans', sans-serif" font-size="25.5">12</text>
<text x="1180" y="502.3" font-family="'Liberation Sans', sans-serif" font-size="25.5">18</text>
<text x="102" y="500.4" font-family="'Liberation Sans', sans-serif" font-size="25.5" text-anchor="end">-24</text>
<text x="102" y="562.9" font-family="'Liberation Sans', sans-serif" font-size="25.5" text-anchor="end">-25</text>
<text x="102" y="625.4" font-family="'Liberation Sans', sans-serif" font-size="25.5" text-anchor="end">-26</text>
<text x="102" y="687.9" font-family="'Liberation Sans', sans-serif" font-size="25.5" text-anchor="end">-27</text>
<text x="102" y="750.4" font-family="'Liberation Sans', sans-serif" font-size="25.5" text-anchor="end">-28</text>
<text x="102" y="812.9" font-family="'Liberation Sans', sans-serif" font-size="25.5" text-anchor="end">-29</text>
<text x="102" y="875.4" font-family="'Liberation Sans', sans-serif" font-size="25.5" text-anchor="end">-30</text>
<text x="102" y="937.9" font-family="'Liberation Sans', sans-serif" font-size="25.5" text-anchor="end">-31</text>
<text x="640" y="1004" font-family="'Liberation Serif', serif" font-size="30.5" text-anchor="middle">Age (cal yr BP)</text>
<text transform="translate(1236.5,278) rotate(-90)" font-family="'Liberation Serif', serif" font-size="30.5" text-anchor="middle">Percent (%)</text>
<text transform="translate(42.5,702) rotate(-90)" font-family="'Liberation Serif', serif" font-size="31" text-anchor="middle">δ<tspan dy="-14.5" font-size="17">13</tspan><tspan dy="14.5">C (‰, VPDB)</tspan></text>
<text x="1108.8" y="299" font-family="'Liberation Serif', serif" font-size="30.5">(a)</text>
<text x="1108.8" y="748" font-family="'Liberation Serif', serif" font-size="30.5">(b)</text>
<text x="151.5" y="135.5" font-family="'Liberation Serif', serif" font-weight="bold" font-size="39" text-anchor="middle">0</text>
<text x="240.7" y="135.5" font-family="'Liberation Serif', serif" font-weight="bold" font-size="39" text-anchor="middle">1</text>
<text x="381" y="178" font-family="'Liberation Serif', serif" font-weight="bold" font-size="39" text-anchor="middle">2</text>
<text x="505" y="180" font-family="'Liberation Serif', serif" font-weight="bold" font-size="39" text-anchor="middle">3</text>
<text x="604.5" y="181" font-family="'Liberation Serif', serif" font-weight="bold" font-size="39" text-anchor="middle">4</text>
<text x="777" y="226" font-family="'Liberation Serif', serif" font-weight="bold" font-size="39" text-anchor="middle">5</text>
<text x="853" y="458" font-family="'Liberation Serif', serif" font-weight="bold" font-size="39" text-anchor="middle">?</text>
<text x="943" y="225" font-family="'Liberation Serif', serif" font-weight="bold" font-size="39" text-anchor="middle">6</text>
<text x="1024.5" y="227.5" font-family="'Liberation Serif', serif" font-weight="bold" font-size="39" text-anchor="middle">7</text>
<text x="151" y="711" font-family="'Liberation Serif', serif" font-weight="bold" font-size="39" text-anchor="middle">0</text>
<text x="357" y="687" font-family="'Liberation Serif', serif" font-weight="bold" font-size="39" text-anchor="middle">2</text>
<text x="503.5" y="794" font-family="'Liberation Serif', serif" font-weight="bold" font-size="39" text-anchor="middle">3</text>
<text x="601" y="795" font-family="'Liberation Serif', serif" font-weight="bold" font-size="39" text-anchor="middle">4</text>
<text x="946" y="724" font-family="'Liberation Serif', serif" font-weight="bold" font-size="39" text-anchor="middle">6</text>
<text x="1020" y="917.5" font-family="'Liberation Serif', serif" font-weight="bold" font-size="39" text-anchor="middle">7</text>
<text x="454" y="104.8" font-family="'Liberation Serif', serif" font-weight="bold" font-size="25.4" fill="#838100">y=0.0012x+5.9848</text>
<text x="455" y="142.7" font-family="'Liberation Serif', serif" font-weight="bold" font-size="25.4" fill="#838100">r=0.44, n=79, p&lt;0.001</text>
<text x="896.6" y="108" font-family="'Liberation Serif', serif" font-weight="bold" font-size="25.4" fill="#ff00ff">y=0.0005x+7.934</text>
<text x="896.6" y="146.2" font-family="'Liberation Serif', serif" font-weight="bold" font-size="25.4" fill="#ff00ff">r=0.37, n=166, p&lt;0.001</text>
<text x="199.4" y="839.8" font-family="'Liberation Serif', serif" font-weight="bold" font-size="25.4" fill="#838100">y=-0.0003x-25.076</text>
<text x="200.3" y="877.4" font-family="'Liberation Serif', serif" font-weight="bold" font-size="25.4" fill="#838100">r=0.59, n=94, p&lt;0.001</text>
<text x="575.9" y="842" font-family="'Liberation Serif', serif" font-weight="bold" font-size="25.4" fill="#ff00ff">y=-0.0002x-25.236</text>
<text x="575.9" y="880.3" font-family="'Liberation Serif', serif" font-weight="bold" font-size="25.4" fill="#ff00ff">r=0.46, n=243, p&lt;0.001</text>
</svg></body></html>
